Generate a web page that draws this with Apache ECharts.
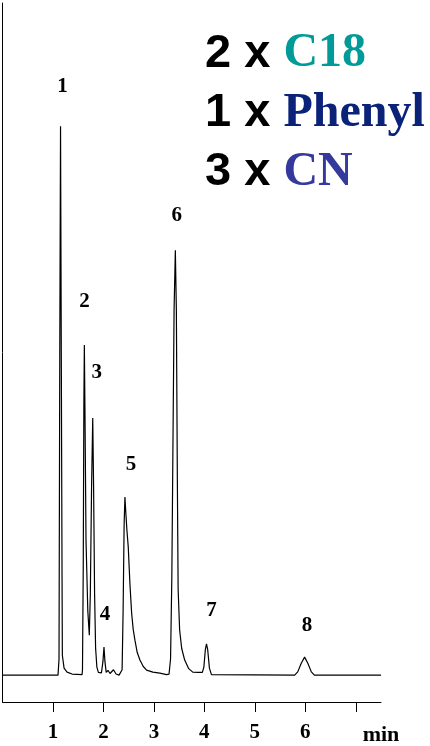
<!DOCTYPE html>
<html>
<head>
<meta charset="utf-8">
<script src="https://cdn.jsdelivr.net/npm/echarts@6/dist/echarts.min.js"></script>
<style>
html,body{margin:0;padding:0;background:#fff;}
#chart{width:430px;height:746px;}
</style>
</head>
<body>
<div id="chart"></div>
<script>
// Chromatogram trace (time in min, signal in arbitrary units)
var traceTime = [0, 1.10, 1.12, 1.135, 1.15, 1.165, 1.18, 1.186, 1.22, 1.28, 1.378, 1.576,
  1.585, 1.600, 1.612, 1.622, 1.635, 1.655, 1.69, 1.72, 1.74, 1.765, 1.788, 1.805, 1.825, 1.845,
  1.87, 1.90, 1.96, 1.99, 2.011, 2.03, 2.055, 2.09, 2.13, 2.199, 2.25, 2.31, 2.347, 2.37, 2.39,
  2.41, 2.426, 2.445, 2.465, 2.492, 2.525, 2.559, 2.59, 2.624, 2.67, 2.723, 2.79, 2.855, 2.98,
  3.118, 3.251, 3.30, 3.33, 3.355, 3.375, 3.40, 3.425, 3.445, 3.465, 3.48, 3.51, 3.55, 3.61,
  3.69, 3.77, 3.88, 3.96, 3.99, 4.02, 4.042, 4.065, 4.10, 4.14, 5.79, 5.85, 5.92, 5.986, 6.05,
  6.12, 6.18, 7.5];
var traceSignal = [0, 0, 3, 60, 102.1, 60, 18, 3.7, 1.3, 0.55, 0.2, 0.1,
  1, 20, 50, 61.4, 48, 25, 12, 7.4, 15, 35, 47.8, 35, 15, 5,
  1.5, 0.5, 0.4, 2.5, 5.2, 2.5, 0.5, 0.9, 0.3, 1.0, 0.2, 0.0, 0.3, 1, 12,
  28, 33.1, 30, 27, 23.8, 17, 11.5, 8.5, 6.5, 4.2, 2.8, 1.6, 0.93, 0.56,
  0.37, 0.1, 0.2, 3, 18, 40, 68, 79, 68, 36, 16, 8.4, 5, 2.8,
  1.2, 0.56, 0.5, 0.5, 1.5, 4.8, 5.8, 4.8, 1.3, 0.1, 0, 0.6, 2.2, 3.35, 2.2,
  0.6, 0, 0];

// Peak labels
var peakNames = ['1', '2', '3', '4', '5', '6', '7', '8'];
var peakLabelTime = [1.19, 1.626, 1.867, 2.031, 2.545, 3.455, 4.141, 6.035];
var peakLabelSignal = [109.5, 69.5, 56.3, 11.3, 39.2, 85.5, 12.0, 9.2];

// Axis
var xTickValues = [1, 2, 3, 4, 5, 6, 7];
var xLabelValues = [1, 2, 3, 4, 5, 6];
var xUnit = 'min';

// Column legend text
var colCounts = ['2 x ', '1 x ', '3 x '];
var colPhases = ['C18', 'Phenyl', 'CN'];
var colColors = ['#009b98', '#0b2279', '#35389c'];

var traceData = traceTime.map(function (t, i) { return [t, traceSignal[i]]; });
var labelData = peakNames.map(function (n, i) { return { value: [peakLabelTime[i], peakLabelSignal[i]], name: n }; });

var chart = echarts.init(document.getElementById('chart'), null, { renderer: 'canvas' });

var graphics = colCounts.map(function (c, i) {
  var rich = {
    a: { fontFamily: 'Liberation Sans', fontWeight: 'bold', fontSize: 47, fill: '#000', lineHeight: 52 },
    b: { fontFamily: 'Liberation Serif', fontWeight: 'bold', fontSize: 48, fill: colColors[i], lineHeight: 52 }
  };
  return {
    type: 'text',
    x: 205,
    y: [54, 113.5, 172.5][i],
    style: {
      text: '{a|' + c + '}{b|' + colPhases[i] + '}',
      rich: rich,
      verticalAlign: 'middle',
      align: 'left'
    }
  };
});
graphics.push({
  type: 'text',
  x: 381,
  y: 735,
  style: {
    text: xUnit,
    font: 'bold 22px "Liberation Serif"',
    fill: '#000',
    align: 'center',
    verticalAlign: 'middle'
  }
});

chart.setOption({
  animation: false,
  backgroundColor: '#fff',
  grid: { left: 2.5, right: 49, top: 3, bottom: 44, containLabel: false },
  xAxis: {
    type: 'value',
    min: 0,
    max: 7.5,
    interval: 1,
    axisLine: { show: true, onZero: false, lineStyle: { color: '#000', width: 1 } },
    axisTick: { show: true, customValues: xTickValues, length: 10, inside: false, lineStyle: { color: '#000', width: 1 } },
    axisLabel: { show: true, customValues: xLabelValues, margin: 20, color: '#000', fontFamily: 'Liberation Serif', fontWeight: 'bold', fontSize: 21 },
    splitLine: { show: false }
  },
  yAxis: {
    type: 'value',
    min: -5,
    max: 125,
    axisLine: { show: true, onZero: false, lineStyle: { color: '#000', width: 1 } },
    axisTick: { show: false },
    axisLabel: { show: false },
    splitLine: { show: false }
  },
  series: [
    {
      type: 'line',
      data: traceData,
      showSymbol: false,
      symbol: 'none',
      smooth: false,
      sampling: null,
      lineStyle: { color: '#000', width: 1.2 },
      z: 2
    },
    {
      type: 'scatter',
      data: labelData,
      symbolSize: 1,
      itemStyle: { color: 'rgba(0,0,0,0)', opacity: 1 },
      label: {
        show: true,
        position: 'inside',
        formatter: '{b}',
        color: '#000',
        opacity: 1,
        fontFamily: 'Liberation Serif',
        fontWeight: 'bold',
        fontSize: 21
      },
      z: 3
    }
  ],
  graphic: graphics
});
</script>
</body>
</html>
